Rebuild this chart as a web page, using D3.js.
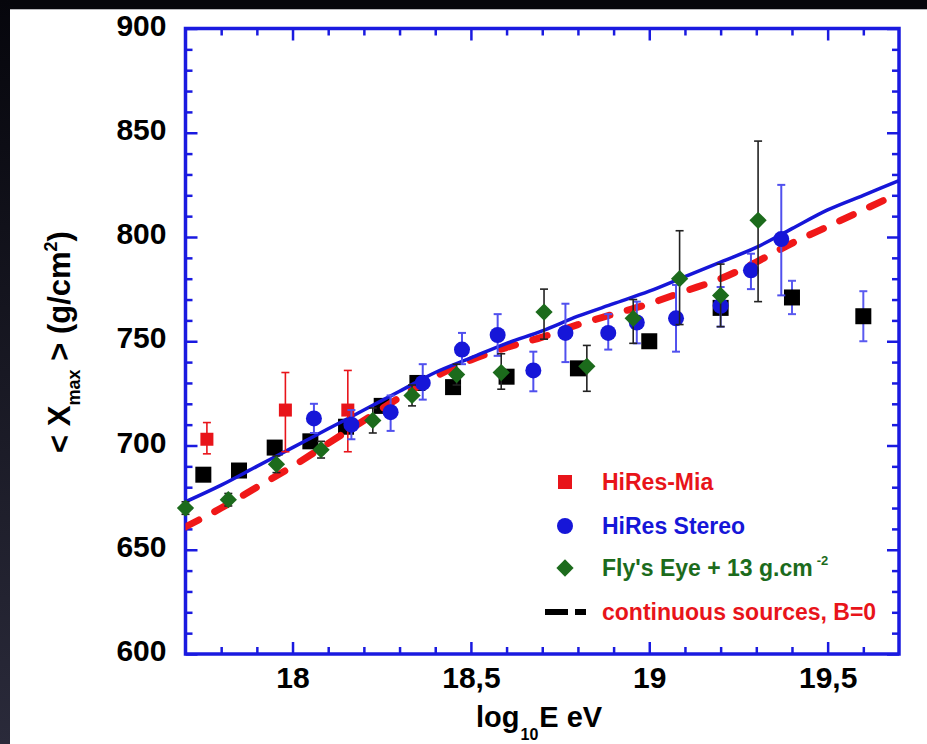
<!DOCTYPE html>
<html>
<head>
<meta charset="utf-8">
<script src="https://cdn.jsdelivr.net/npm/d3@7"></script>
<style>
  html, body { margin: 0; padding: 0; background: #06060c; }
  svg { display: block; }
  text { font-family: "Liberation Sans", Arial, Helvetica, sans-serif; font-weight: bold; }
</style>
</head>
<body>
<svg id="chart" width="927" height="744"></svg>
<script>
// ---- data: <Xmax> versus log10(E/eV) ----
const xTicks = [18, 18.5, 19, 19.5];
const yTicks = [600, 650, 700, 750, 800, 850, 900];

// HiRes-MIA (red squares)
const miaE  = [17.76, 17.98, 18.155];
const miaX  = [703, 717, 717];
const miaLo = [696, 697, 697];
const miaHi = [711, 735, 736];

// HiRes Stereo (blue circles)
const stereoE  = [18.06, 18.165, 18.275, 18.365, 18.475, 18.575, 18.675, 18.765, 18.885, 18.965, 19.075, 19.2, 19.285, 19.37];
const stereoX  = [713, 710, 716, 730, 746, 753, 736, 754, 754, 759, 761, 767, 784, 799];
const stereoLo = [706, 703, 707, 722, 739, 743, 726, 740, 746, 749, 745, 757, 775, 772];
const stereoHi = [720, 717, 724, 739, 754, 763, 745, 768, 763, 769, 777, 776, 792, 825];

// Fly's Eye shifted by +13 g/cm2 (green diamonds)
const flyE  = [17.70, 17.82, 17.955, 18.08, 18.225, 18.335, 18.46, 18.585, 18.705, 18.825, 18.955, 19.085, 19.2, 19.305];
const flyX  = [670, 674, 691, 698, 712, 724, 734, 735, 764, 738, 761, 780, 772, 808];
const flyLo = [667, 671, 687, 694, 706, 719, 729, 727, 751, 726, 749, 758, 757, 769];
const flyHi = [673, 677, 695, 702, 718, 729, 739, 744, 775, 748, 770, 803, 787, 846];

// black squares (error bars only where drawn)
const blackE  = [17.75, 17.85, 17.95, 18.05, 18.15, 18.25, 18.35, 18.45, 18.6, 18.8, 19.0, 19.2, 19.4, 19.6];
const blackX  = [686, 688, 699, 702, 709, 719, 730, 728, 733, 737, 750, 766, 771, 762];
const blackLo = [null, null, null, null, null, null, null, null, null, null, null, null, 763, 750];
const blackHi = [null, null, null, null, null, null, null, null, null, null, null, null, 779, 774];

// model curves
const curveE    = [17.7, 17.8, 17.9, 18.0, 18.1, 18.2, 18.3, 18.4, 18.5, 18.6, 18.7, 18.8, 18.9, 19.0, 19.1, 19.2, 19.3, 19.4, 19.5, 19.6, 19.7];
const solidX    = [673, 681, 690, 699, 708, 717, 726, 735, 742, 749, 755, 762, 768, 774, 781, 788, 795, 804, 813, 820, 827];
const continuousX = [661, 670, 680, 690, 701, 712, 723, 733, 741, 747, 752, 758, 763, 768, 774, 780, 788, 797, 805, 813, 821];

const legendLabels = ["HiRes-Mia", "HiRes Stereo", "Fly's Eye + 13 g.cm", "continuous sources, B=0"];

// ---- drawing ----
const svg = d3.select("#chart");
const W = 927, H = 744;

const RED = "#e8141a", BLUE = "#1616d8", GREEN = "#1c6b1c", FRAME = "#1a1ae0";

// dark surround with a white page
const grad = svg.append("defs").append("linearGradient")
  .attr("id", "edge").attr("x1", 0).attr("y1", 0).attr("x2", 0).attr("y2", 1);
grad.append("stop").attr("offset", "0%").attr("stop-color", "#06060c");
grad.append("stop").attr("offset", "100%").attr("stop-color", "#2a2a3a");
svg.append("rect").attr("width", W).attr("height", H).attr("fill", "#06060c");
svg.append("rect").attr("x", 0).attr("y", 0).attr("width", 10).attr("height", H).attr("fill", "url(#edge)");
svg.append("rect").attr("x", 10).attr("y", 9).attr("width", W - 10).attr("height", H - 9).attr("fill", "#ffffff");
svg.append("line").attr("x1", 10).attr("x2", W).attr("y1", 9.5).attr("y2", 9.5)
  .attr("stroke", "#b8b8bc").attr("stroke-width", 1);

const x = d3.scaleLinear().domain([17.7, 19.7]).range([185.5, 899]);
const y = d3.scaleLinear().domain([600, 900]).range([654, 28.5]);

const fmtX = d => String(d).replace(".", ",");
const minorX = d3.range(17.8, 19.65, 0.1).map(v => +v.toFixed(1)).filter(v => !xTicks.includes(v));
const minorY = d3.range(610, 900, 10).filter(v => v % 50 !== 0);

function styleAxis(g) {
  g.select(".domain").remove();
  g.selectAll(".tick line").attr("stroke", FRAME).attr("stroke-width", 2.5);
  g.selectAll(".tick text").attr("fill", "#000").style("font-size", "30px")
    .style("font-family", "'Liberation Sans', Arial, sans-serif").style("font-weight", "bold");
}

// bottom
svg.append("g").attr("transform", `translate(0,${y(600)})`)
  .call(d3.axisBottom(x).tickValues(xTicks).tickSize(-12).tickPadding(13).tickFormat(fmtX))
  .call(styleAxis);
svg.append("g").attr("transform", `translate(0,${y(600)})`)
  .call(d3.axisBottom(x).tickValues(minorX).tickSize(-7).tickFormat(""))
  .call(styleAxis);
// top
svg.append("g").attr("transform", `translate(0,${y(900)})`)
  .call(d3.axisTop(x).tickValues(xTicks).tickSize(-12).tickFormat(""))
  .call(styleAxis);
svg.append("g").attr("transform", `translate(0,${y(900)})`)
  .call(d3.axisTop(x).tickValues(minorX).tickSize(-7).tickFormat(""))
  .call(styleAxis);
// left
const yAxisG = svg.append("g").attr("transform", `translate(${x(17.7)},0)`)
  .call(d3.axisLeft(y).tickValues(yTicks).tickSize(-12).tickPadding(19).tickFormat(d3.format("d")))
  .call(styleAxis);
yAxisG.selectAll(".tick text").attr("dy", "0.22em");
svg.append("g").attr("transform", `translate(${x(17.7)},0)`)
  .call(d3.axisLeft(y).tickValues(minorY).tickSize(-7).tickFormat(""))
  .call(styleAxis);
// right
svg.append("g").attr("transform", `translate(${x(19.7)},0)`)
  .call(d3.axisRight(y).tickValues(yTicks).tickSize(-12).tickFormat(""))
  .call(styleAxis);
svg.append("g").attr("transform", `translate(${x(19.7)},0)`)
  .call(d3.axisRight(y).tickValues(minorY).tickSize(-7).tickFormat(""))
  .call(styleAxis);

// frame
svg.append("rect")
  .attr("x", x(17.7)).attr("y", y(900))
  .attr("width", x(19.7) - x(17.7)).attr("height", y(600) - y(900))
  .attr("fill", "none").attr("stroke", FRAME).attr("stroke-width", 3.5);

// clip for curves
svg.append("clipPath").attr("id", "plot").append("rect")
  .attr("x", x(17.7)).attr("y", y(900))
  .attr("width", x(19.7) - x(17.7)).attr("height", y(600) - y(900));

// error bars helper
function errorBars(E, lo, hi, color, width, cap) {
  const g = svg.append("g").attr("stroke", color).attr("stroke-width", width).attr("fill", "none");
  E.forEach((e, i) => {
    if (lo[i] == null) return;
    const cx = x(e);
    g.append("line").attr("x1", cx).attr("x2", cx).attr("y1", y(lo[i])).attr("y2", y(hi[i]));
    g.append("line").attr("x1", cx - cap).attr("x2", cx + cap).attr("y1", y(lo[i])).attr("y2", y(lo[i]));
    g.append("line").attr("x1", cx - cap).attr("x2", cx + cap).attr("y1", y(hi[i])).attr("y2", y(hi[i]));
  });
}

// black squares
errorBars(blackE, blackLo, blackHi, "#5a5af0", 2, 4);
svg.append("g").selectAll("rect").data(blackE).join("rect")
  .attr("x", (d) => x(d) - 8).attr("y", (d, i) => y(blackX[i]) - 8)
  .attr("width", 16).attr("height", 16).attr("fill", "#000");

// model curves
const lineGen = (vals) => d3.line().x((d, i) => x(curveE[i])).y((d, i) => y(vals[i])).curve(d3.curveMonotoneX)(vals);
const curves = svg.append("g").attr("clip-path", "url(#plot)");
curves.append("path").attr("d", lineGen(continuousX))
  .attr("fill", "none").attr("stroke", "#f01818").attr("stroke-width", 7)
  .attr("stroke-dasharray", "15,18").attr("stroke-linecap", "round");
curves.append("path").attr("d", lineGen(solidX))
  .attr("fill", "none").attr("stroke", BLUE).attr("stroke-width", 3.5);

// HiRes-Mia
errorBars(miaE, miaLo, miaHi, RED, 1.6, 4);
svg.append("g").selectAll("rect").data(miaE).join("rect")
  .attr("x", d => x(d) - 6.5).attr("y", (d, i) => y(miaX[i]) - 6.5)
  .attr("width", 13).attr("height", 13).attr("fill", RED);

// HiRes Stereo
errorBars(stereoE, stereoLo, stereoHi, "#5050ee", 2, 4);
svg.append("g").selectAll("circle").data(stereoE).join("circle")
  .attr("cx", d => x(d)).attr("cy", (d, i) => y(stereoX[i])).attr("r", 8).attr("fill", BLUE);

// Fly's Eye
errorBars(flyE, flyLo, flyHi, "#222", 1.6, 4);
const diamond = d3.symbol().type(d3.symbolDiamond2).size(190);
svg.append("g").selectAll("path").data(flyE).join("path")
  .attr("d", diamond)
  .attr("transform", (d, i) => `translate(${x(d)},${y(flyX[i])})`)
  .attr("fill", GREEN);

// legend
const lg = svg.append("g");
const legendY = [482, 526, 568, 612];
const legendColors = [RED, BLUE, GREEN, RED];
lg.append("rect").attr("x", 558).attr("y", legendY[0] - 7).attr("width", 14).attr("height", 14).attr("fill", RED);
lg.append("circle").attr("cx", 565).attr("cy", legendY[1]).attr("r", 8).attr("fill", BLUE);
lg.append("path").attr("d", diamond).attr("transform", `translate(565,${legendY[2]})`).attr("fill", GREEN);
lg.append("line").attr("x1", 545).attr("x2", 568).attr("y1", legendY[3]).attr("y2", legendY[3])
  .attr("stroke", "#000").attr("stroke-width", 6);
lg.append("line").attr("x1", 575).attr("x2", 586).attr("y1", legendY[3]).attr("y2", legendY[3])
  .attr("stroke", "#000").attr("stroke-width", 6);
legendLabels.forEach((t, i) => {
  const tx = lg.append("text").attr("x", 602).attr("y", legendY[i] + 8)
    .attr("fill", legendColors[i]).style("font-size", "23px").text(t);
  if (i === 2) tx.append("tspan").attr("dx", 4).attr("dy", -11).style("font-size", "13px").text("-2");
});

// axis titles
const xt = svg.append("text").attr("x", 476).attr("y", 727).attr("fill", "#000").style("font-size", "29px");
xt.append("tspan").text("log");
xt.append("tspan").attr("dy", 13).attr("dx", 1).style("font-size", "16px").text("10");
xt.append("tspan").attr("dy", -13).attr("dx", 1).text("E eV");

const yt = svg.append("text").attr("transform", "translate(70,342) rotate(-90)")
  .attr("text-anchor", "middle").attr("fill", "#000").style("font-size", "31px");
yt.append("tspan").text("< X");
yt.append("tspan").attr("dy", 10).style("font-size", "18px").text("max");
yt.append("tspan").attr("dy", -10).text(" > (g/cm");
yt.append("tspan").attr("dy", -13).style("font-size", "18px").text("2");
yt.append("tspan").attr("dy", 13).text(")");
</script>
</body>
</html>
